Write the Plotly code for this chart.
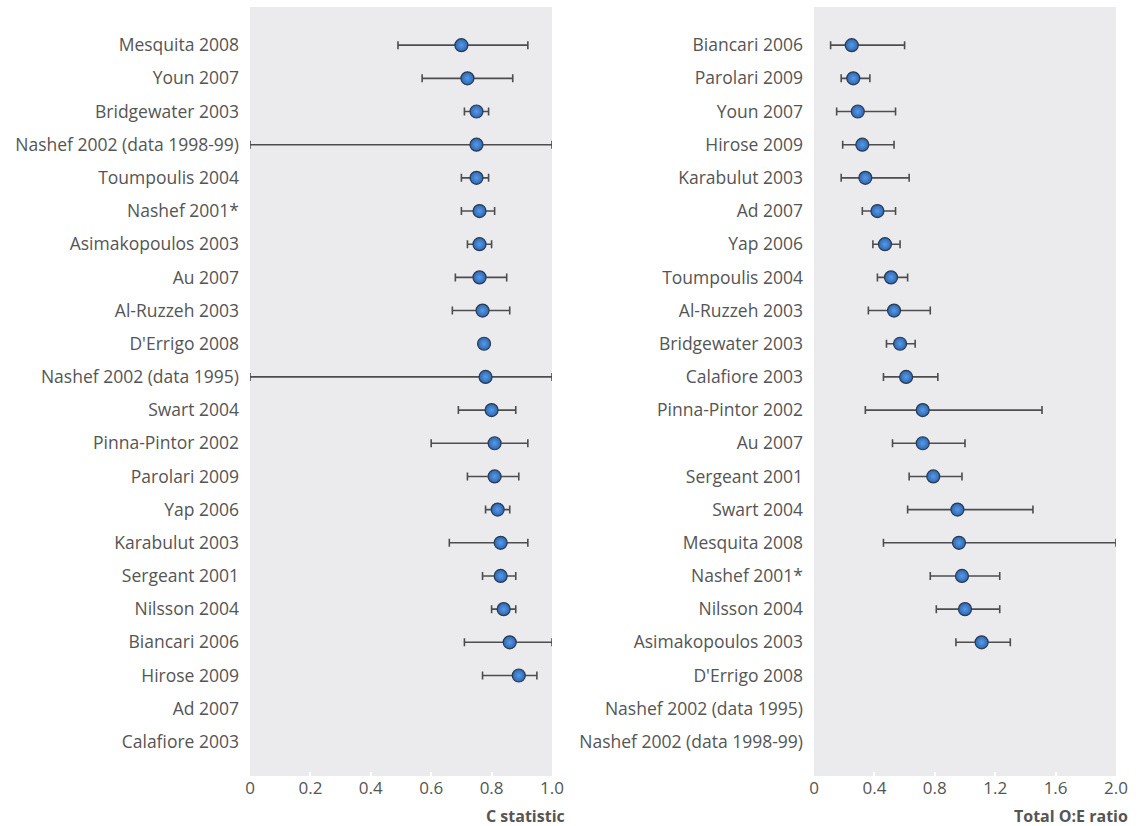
import plotly.graph_objects as go

# C statistic per study (top to bottom)
c_studies = ["Mesquita 2008", "Youn 2007", "Bridgewater 2003", "Nashef 2002 (data 1998-99)",
             "Toumpoulis 2004", "Nashef 2001*", "Asimakopoulos 2003", "Au 2007",
             "Al-Ruzzeh 2003", "D'Errigo 2008", "Nashef 2002 (data 1995)", "Swart 2004",
             "Pinna-Pintor 2002", "Parolari 2009", "Yap 2006", "Karabulut 2003",
             "Sergeant 2001", "Nilsson 2004", "Biancari 2006", "Hirose 2009",
             "Ad 2007", "Calafiore 2003"]
c_est = [0.70, 0.72, 0.75, 0.75, 0.75, 0.76, 0.76, 0.76, 0.77, 0.775, 0.78, 0.80,
         0.81, 0.81, 0.82, 0.83, 0.83, 0.84, 0.86, 0.89, None, None]
c_low = [0.49, 0.57, 0.71, 0.0, 0.70, 0.70, 0.72, 0.68, 0.67, 0.76, 0.0, 0.69,
         0.60, 0.72, 0.78, 0.66, 0.77, 0.80, 0.71, 0.77, None, None]
c_high = [0.92, 0.87, 0.79, 1.0, 0.79, 0.81, 0.80, 0.85, 0.86, 0.79, 1.0, 0.88,
          0.92, 0.89, 0.86, 0.92, 0.88, 0.88, 1.0, 0.95, None, None]

# Total observed:expected ratio per study (top to bottom)
oe_studies = ["Biancari 2006", "Parolari 2009", "Youn 2007", "Hirose 2009",
              "Karabulut 2003", "Ad 2007", "Yap 2006", "Toumpoulis 2004",
              "Al-Ruzzeh 2003", "Bridgewater 2003", "Calafiore 2003", "Pinna-Pintor 2002",
              "Au 2007", "Sergeant 2001", "Swart 2004", "Mesquita 2008",
              "Nashef 2001*", "Nilsson 2004", "Asimakopoulos 2003", "D'Errigo 2008",
              "Nashef 2002 (data 1995)", "Nashef 2002 (data 1998-99)"]
oe_est = [0.25, 0.26, 0.29, 0.32, 0.34, 0.42, 0.47, 0.51, 0.53, 0.57, 0.61, 0.72,
          0.72, 0.79, 0.95, 0.96, 0.98, 1.00, 1.11, None, None, None]
oe_low = [0.11, 0.18, 0.15, 0.19, 0.18, 0.32, 0.39, 0.42, 0.36, 0.48, 0.46, 0.34,
          0.52, 0.63, 0.62, 0.46, 0.77, 0.81, 0.94, None, None, None]
oe_high = [0.60, 0.37, 0.54, 0.53, 0.63, 0.54, 0.57, 0.62, 0.77, 0.67, 0.82, 1.51,
           1.00, 0.98, 1.45, 2.00, 1.23, 1.23, 1.30, None, None, None]

c_ticks = [0, 0.2, 0.4, 0.6, 0.8, 1.0]
c_ticktext = ["0", "0.2", "0.4", "0.6", "0.8", "1.0"]
oe_ticks = [0, 0.4, 0.8, 1.2, 1.6, 2.0]
oe_ticktext = ["0", "0.4", "0.8", "1.2", "1.6", "2.0"]

FONT = "Open Sans"
TEXT = "#555555"
PANEL = "#ebebee"
BAR = "#4d4d4d"
W, H = 1146, 826


def err(est, lo, hi):
    plus = [None if e is None else h - e for e, h in zip(est, hi)]
    minus = [None if e is None else e - l for e, l in zip(est, lo)]
    return plus, minus


def forest_trace(names, est, lo, hi, xa, ya):
    plus, minus = err(est, lo, hi)
    return go.Scatter(
        x=est, y=names, xaxis=xa, yaxis=ya, mode="markers",
        marker=dict(size=13, color="#2a66b4",
                    gradient=dict(type="radial", color="#5a9ae4"),
                    line=dict(color="#2a3a4e", width=1.2)),
        error_x=dict(type="data", symmetric=False, array=plus, arrayminus=minus,
                     color=BAR, thickness=1.6, width=4),
        showlegend=False, hoverinfo="skip",
    )


fig = go.Figure()
fig.add_trace(forest_trace(c_studies, c_est, c_low, c_high, "x", "y"))
fig.add_trace(forest_trace(oe_studies, oe_est, oe_low, oe_high, "x2", "y2"))

y_top, y_bot = 1 - 7 / H, 1 - 776 / H
n = len(c_studies)
yrange = [n - 1 + 1.03, -1.15]

x_common = dict(showgrid=False, zeroline=False, showline=False, automargin=False,
                ticks="inside", tickcolor="white", ticklen=4, tickwidth=1.5,
                tickfont=dict(family=FONT, size=17, color=TEXT))
y_common = dict(type="category", categoryorder="array", range=yrange,
                domain=[y_bot, y_top], showgrid=False, zeroline=False,
                showline=False, ticks="", automargin=False, ticklabelstandoff=10,
                tickfont=dict(family=FONT, size=17.5, color=TEXT))

fig.update_layout(
    width=W, height=H,
    template="none",
    margin=dict(l=0, r=0, t=0, b=0),
    paper_bgcolor="white", plot_bgcolor=PANEL,
    font=dict(family=FONT, color=TEXT),
    xaxis=dict(domain=[250 / W, 552 / W], range=[0, 1.0],
               tickvals=c_ticks, ticktext=c_ticktext, anchor="y", **x_common),
    yaxis=dict(categoryarray=c_studies, anchor="x", **y_common),
    xaxis2=dict(domain=[814 / W, 1116 / W], range=[0, 2.0],
                tickvals=oe_ticks, ticktext=oe_ticktext, anchor="y2", **x_common),
    yaxis2=dict(categoryarray=oe_studies, anchor="x2", **y_common),
    annotations=[
        dict(text="<b>C statistic</b>", xref="paper", yref="paper",
             x=567 / W, y=1 - 816 / H, xanchor="right", yanchor="middle",
             showarrow=False, font=dict(family=FONT, size=16, color=TEXT)),
        dict(text="<b>Total O:E ratio</b>", xref="paper", yref="paper",
             x=1130 / W, y=1 - 816 / H, xanchor="right", yanchor="middle",
             showarrow=False, font=dict(family=FONT, size=16, color=TEXT)),
    ],
)

fig.write_html("out.html")
